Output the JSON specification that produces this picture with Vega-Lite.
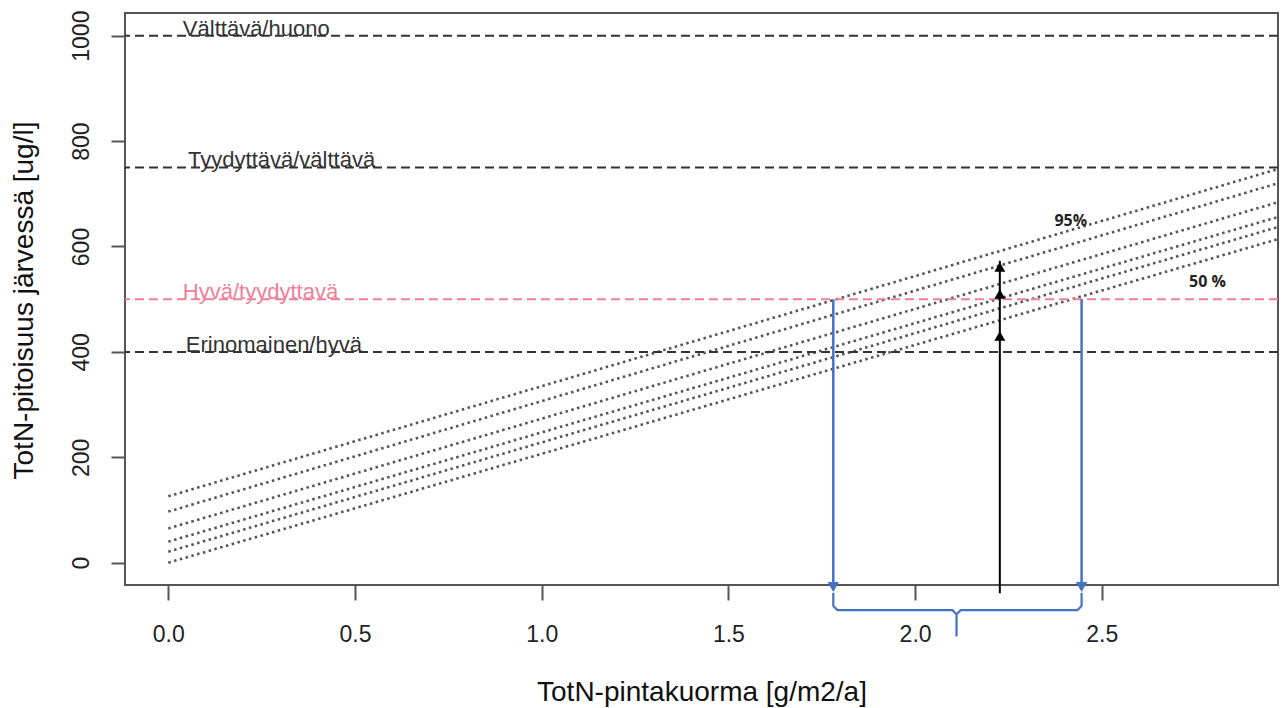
{
  "$schema": "https://vega.github.io/schema/vega-lite/v6.json",
  "width": 1153,
  "height": 572,
  "autosize": {"type": "none"},
  "padding": {"left": 125, "top": 13, "right": 4, "bottom": 123},
  "background": "white",
  "config": {
    "font": "Liberation Sans",
    "view": {"stroke": "#555", "strokeWidth": 2}
  },
  "datasets": {
    "curves": [
      {"q": "q1", "x": 0, "y": 126}, {"q": "q1", "x": 2.972, "y": 747},
      {"q": "q2", "x": 0, "y": 97}, {"q": "q2", "x": 2.972, "y": 720},
      {"q": "q3", "x": 0, "y": 65}, {"q": "q3", "x": 2.972, "y": 684},
      {"q": "q4", "x": 0, "y": 40}, {"q": "q4", "x": 2.972, "y": 656},
      {"q": "q5", "x": 0, "y": 21}, {"q": "q5", "x": 2.972, "y": 637},
      {"q": "q6", "x": 0, "y": 0}, {"q": "q6", "x": 2.972, "y": 614}
    ],
    "thresholds": [
      {"y": 1000, "x": 0.039, "label": "Välttävä/huono", "kind": "rajat"},
      {"y": 750, "x": 0.053, "label": "Tyydyttävä/välttävä", "kind": "rajat"},
      {"y": 500, "x": 0.039, "label": "Hyvä/tyydyttavä", "kind": "tavoite"},
      {"y": 400, "x": 0.047, "label": "Erinomainen/hyvä", "kind": "rajat"}
    ],
    "blue": [
      {"x": 1.781, "y": 500, "y2": -40},
      {"x": 2.446, "y": 500, "y2": -40}
    ],
    "bluetri": [
      {"x": 1.781, "y": -46},
      {"x": 2.446, "y": -46}
    ],
    "black": [
      {"x": 2.227, "y": 573, "y2": -58}
    ],
    "blacktri": [
      {"x": 2.227, "y": 561},
      {"x": 2.227, "y": 510},
      {"x": 2.227, "y": 430}
    ],
    "brace": [
      {"o": 1, "x": 1.781, "y": -57},
      {"o": 2, "x": 1.781, "y": -82},
      {"o": 3, "x": 1.792, "y": -90},
      {"o": 4, "x": 2.100, "y": -90},
      {"o": 5, "x": 2.111, "y": -98},
      {"o": 6, "x": 2.111, "y": -140},
      {"o": 7, "x": 2.111, "y": -98},
      {"o": 8, "x": 2.122, "y": -90},
      {"o": 9, "x": 2.435, "y": -90},
      {"o": 10, "x": 2.446, "y": -82},
      {"o": 11, "x": 2.446, "y": -57}
    ],
    "pct": [
      {"x": 2.417, "y": 648, "label": "95%"},
      {"x": 2.783, "y": 533, "label": "50 %"}
    ]
  },
  "layer": [
    {
      "data": {"name": "curves"},
      "mark": {"type": "line", "color": "#555", "strokeWidth": 2.6, "strokeDash": [2.5, 3.5], "clip": true},
      "encoding": {
        "x": {
          "field": "x", "type": "quantitative",
          "scale": {"domain": [-0.116, 2.972], "nice": false, "zero": false},
          "axis": {
            "title": "TotN-pintakuorma [g/m2/a]",
            "values": [0, 0.5, 1, 1.5, 2, 2.5], "format": ".1f",
            "grid": false, "domain": false,
            "tickSize": 15, "tickWidth": 2, "tickColor": "#555",
            "labelFontSize": 23, "labelColor": "#222", "labelFont": "Liberation Sans",
            "labelBaseline": "alphabetic", "labelPadding": 41, "labelFlush": false, "labelOverlap": false,
            "titleFontSize": 28, "titleFontWeight": "normal", "titleColor": "#111", "titleFont": "Liberation Sans",
            "titleBaseline": "alphabetic", "titleAlign": "center", "titleX": 576.5, "titleY": 115
          }
        },
        "y": {
          "field": "y", "type": "quantitative",
          "scale": {"domain": [-42.3, 1043], "nice": false, "zero": false},
          "axis": {
            "title": "TotN-pitoisuus järvessä [ug/l]",
            "values": [0, 200, 400, 600, 800, 1000], "format": "d",
            "grid": false, "domain": false,
            "tickSize": 14, "tickWidth": 2, "tickColor": "#555",
            "labelAngle": -90, "labelAlign": "center", "labelBaseline": "alphabetic",
            "labelPadding": 23, "labelFontSize": 23, "labelColor": "#222", "labelFont": "Liberation Sans",
            "labelFlush": false, "labelOverlap": false,
            "titleFontSize": 28, "titleFontWeight": "normal", "titleColor": "#111", "titleFont": "Liberation Sans",
            "titleAngle": -90, "titleAlign": "center", "titleBaseline": "alphabetic",
            "titleX": -93, "titleY": 287
          }
        },
        "detail": {"field": "q"}
      }
    },
    {
      "data": {"name": "thresholds"},
      "mark": {"type": "rule", "strokeWidth": 2, "strokeDash": [9, 5]},
      "encoding": {
        "y": {"field": "y", "type": "quantitative", "scale": {"domain": [-42.3, 1043], "nice": false, "zero": false}},
        "color": {"field": "kind", "type": "nominal", "scale": {"domain": ["rajat", "tavoite"], "range": ["#333333", "#f07f98"]}, "legend": null}
      }
    },
    {
      "data": {"name": "thresholds"},
      "mark": {"type": "text", "align": "left", "baseline": "alphabetic", "fontSize": 22, "font": "Liberation Sans", "dy": 0},
      "encoding": {
        "x": {"field": "x", "type": "quantitative", "scale": {"domain": [-0.116, 2.972], "nice": false, "zero": false}},
        "y": {"field": "y", "type": "quantitative", "scale": {"domain": [-42.3, 1043], "nice": false, "zero": false}},
        "text": {"field": "label"},
        "color": {"field": "kind", "type": "nominal", "scale": {"domain": ["rajat", "tavoite"], "range": ["#222222", "#e8607c"]}, "legend": null}
      }
    },
    {
      "data": {"name": "blue"},
      "mark": {"type": "rule", "color": "#4472c4", "strokeWidth": 2.5},
      "encoding": {
        "x": {"field": "x", "type": "quantitative", "scale": {"domain": [-0.116, 2.972], "nice": false, "zero": false}},
        "y": {"field": "y", "type": "quantitative", "scale": {"domain": [-42.3, 1043], "nice": false, "zero": false}},
        "y2": {"field": "y2"}
      }
    },
    {
      "data": {"name": "bluetri"},
      "mark": {"type": "point", "shape": "triangle-down", "filled": true, "color": "#4472c4", "size": 130, "opacity": 1},
      "encoding": {
        "x": {"field": "x", "type": "quantitative", "scale": {"domain": [-0.116, 2.972], "nice": false, "zero": false}},
        "y": {"field": "y", "type": "quantitative", "scale": {"domain": [-42.3, 1043], "nice": false, "zero": false}}
      }
    },
    {
      "data": {"name": "brace"},
      "mark": {"type": "line", "color": "#4472c4", "strokeWidth": 2.2},
      "encoding": {
        "x": {"field": "x", "type": "quantitative", "scale": {"domain": [-0.116, 2.972], "nice": false, "zero": false}},
        "y": {"field": "y", "type": "quantitative", "scale": {"domain": [-42.3, 1043], "nice": false, "zero": false}},
        "order": {"field": "o", "type": "quantitative"}
      }
    },
    {
      "data": {"name": "black"},
      "mark": {"type": "rule", "color": "#000000", "strokeWidth": 2},
      "encoding": {
        "x": {"field": "x", "type": "quantitative", "scale": {"domain": [-0.116, 2.972], "nice": false, "zero": false}},
        "y": {"field": "y", "type": "quantitative", "scale": {"domain": [-42.3, 1043], "nice": false, "zero": false}},
        "y2": {"field": "y2"}
      }
    },
    {
      "data": {"name": "blacktri"},
      "mark": {"type": "point", "shape": "triangle-up", "filled": true, "color": "#000000", "size": 120, "opacity": 1},
      "encoding": {
        "x": {"field": "x", "type": "quantitative", "scale": {"domain": [-0.116, 2.972], "nice": false, "zero": false}},
        "y": {"field": "y", "type": "quantitative", "scale": {"domain": [-42.3, 1043], "nice": false, "zero": false}}
      }
    },
    {
      "data": {"name": "pct"},
      "mark": {"type": "text", "align": "center", "baseline": "middle", "fontSize": 16, "fontWeight": "bold", "font": "Open Sans", "color": "#222"},
      "encoding": {
        "x": {"field": "x", "type": "quantitative", "scale": {"domain": [-0.116, 2.972], "nice": false, "zero": false}},
        "y": {"field": "y", "type": "quantitative", "scale": {"domain": [-42.3, 1043], "nice": false, "zero": false}},
        "text": {"field": "label"}
      }
    }
  ]
}
